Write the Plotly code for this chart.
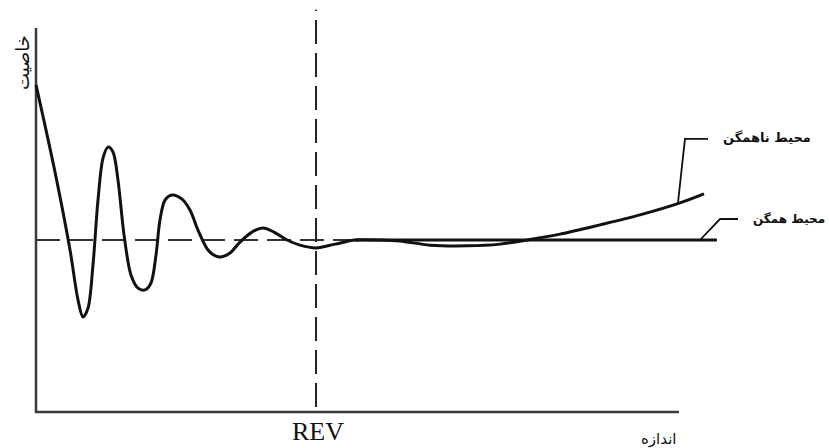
import plotly.graph_objects as go

# ---- data (arbitrary units) ----
size_x = [0.00, 0.295, 0.529, 0.653, 0.731, 0.809, 0.886, 0.964, 1.042, 1.120,
          1.197, 1.275, 1.369, 1.477, 1.586, 1.695, 1.788, 1.866, 1.928, 2.006,
          2.115, 2.271, 2.395, 2.519, 2.675, 2.799, 2.893, 3.017, 3.173, 3.359,
          3.530, 3.701, 3.904, 4.106, 4.355, 4.650, 4.961, 5.350, 5.661, 6.128,
          6.703, 7.216, 7.636, 8.149, 8.771, 9.393, 10.016, 10.389]
property_y = [9.51, 6.98, 4.71, 3.26, 2.76, 3.02, 4.27, 6.16, 7.38, 7.70,
              7.56, 6.74, 5.15, 3.98, 3.60, 3.55, 3.75, 4.56, 5.58, 6.16,
              6.31, 6.19, 5.87, 5.29, 4.71, 4.53, 4.51, 4.62, 4.94, 5.23,
              5.35, 5.23, 5.00, 4.85, 4.77, 4.88, 5.00, 5.00, 4.97, 4.85,
              4.83, 4.88, 5.00, 5.17, 5.44, 5.73, 6.08, 6.34]

homog_level = 5.0
homog_x = [4.961, 10.59]
dashed_x = [0.0, 4.961]
rev_x = 4.355
rev_y = [0.145, 11.69]
x_axis_end = 10.0
y_axis_top = 11.16

hetero_leader_x = [9.984, 10.093, 10.451]
hetero_leader_y = [6.08, 7.94, 7.94]
homog_leader_x = [10.327, 10.638, 10.918]
homog_leader_y = [5.00, 5.61, 5.61]

label_hetero = "محیط ناهمگن"
label_homog = "محیط همگن"
label_x = "اندازه"
label_y = "خاصیت"
label_rev = "REV"

fig = go.Figure()

# axes
fig.add_trace(go.Scatter(x=[0, 0, x_axis_end], y=[y_axis_top, 0, 0], mode="lines",
                         line=dict(color="#3a3a3a", width=2.5), hoverinfo="skip"))
# dashed baseline
fig.add_trace(go.Scatter(x=dashed_x, y=[homog_level, homog_level], mode="lines",
                         line=dict(color="#333333", width=2, dash="24px,9px"), hoverinfo="skip"))
# REV dashed line
fig.add_trace(go.Scatter(x=[rev_x, rev_x], y=rev_y, mode="lines",
                         line=dict(color="#222222", width=2, dash="24px,9px"), hoverinfo="skip"))
# homogeneous line
fig.add_trace(go.Scatter(x=homog_x, y=[homog_level, homog_level], mode="lines",
                         line=dict(color="#111111", width=3), hoverinfo="skip"))
# heterogeneous curve
fig.add_trace(go.Scatter(x=size_x, y=property_y, mode="lines",
                         line=dict(color="#111111", width=3, shape="spline", smoothing=0.9),
                         hoverinfo="skip"))
# leader lines
fig.add_trace(go.Scatter(x=hetero_leader_x, y=hetero_leader_y, mode="lines",
                         line=dict(color="#111111", width=1.8), hoverinfo="skip"))
fig.add_trace(go.Scatter(x=homog_leader_x, y=homog_leader_y, mode="lines",
                         line=dict(color="#111111", width=1.8), hoverinfo="skip"))

arab = dict(family="DejaVu Sans", color="#111111")
fig.add_annotation(x=hetero_leader_x[-1] + 0.2, y=hetero_leader_y[-1] + 0.05,
                   text="<b>" + label_hetero + "</b>",
                   showarrow=False, xanchor="left", yanchor="middle",
                   font=dict(size=13, **arab))
fig.add_annotation(x=12.30, y=homog_leader_y[-1],
                   text="<b>" + label_homog + "</b>",
                   showarrow=False, xanchor="right", yanchor="middle",
                   font=dict(size=12, **arab))
fig.add_annotation(x=x_axis_end, y=-0.78, text=label_x, showarrow=False,
                   xanchor="right", yanchor="middle", font=dict(size=15, **arab))
fig.add_annotation(x=-0.22, y=10.17, text=label_y, showarrow=False, textangle=-90,
                   xanchor="center", yanchor="middle", font=dict(size=18, **arab))
fig.add_annotation(x=rev_x + 0.03, y=-1.04, text=label_rev, showarrow=False,
                   xanchor="center", yanchor="bottom",
                   font=dict(size=26, family="Liberation Serif", color="#111111"))

fig.update_layout(
    width=829, height=448,
    margin=dict(l=0, r=0, t=0, b=0),
    paper_bgcolor="white", plot_bgcolor="white",
    showlegend=False,
    xaxis=dict(range=[-0.560, 12.333], visible=False, fixedrange=True),
    yaxis=dict(range=[-1.047, 11.977], visible=False, fixedrange=True),
)

fig.write_html("out.html")
